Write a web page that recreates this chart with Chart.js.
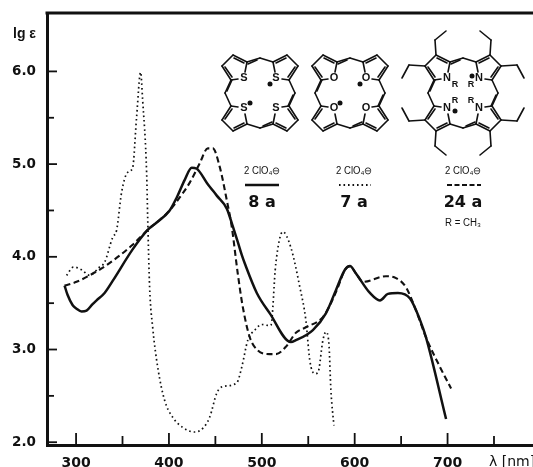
<!DOCTYPE html>
<html>
<head>
<meta charset="utf-8">
<style>
html,body{margin:0;padding:0;background:#fff}
#wrap{position:relative;width:533px;height:467px}
</style>
<script src="https://cdn.jsdelivr.net/npm/chart.js@4"></script>
</head>
<body>
<div id="wrap"><canvas id="c" width="533" height="467"></canvas></div>
<script>
const xTicks = [300,350,400,450,500,550,600,650,700,750];
const yTicks = [2,2.5,3,3.5,4,4.5,5,5.5,6];

const solidX = [287.6,290.8,296.2,300.5,305.9,311.3,317.8,322.1,330.7,339.4,360.9,377.1,386.8,400.8,408.4,417,424.5,429.9,440.7,451.5,462.3,468.7,474.1,478.4,481.6,494.6,508.6,531.3,536.7,555,569,579.8,589.5,594.9,601.4,616.4,627.2,635.8,646.6,659.6,670.3,676.8,698.4];
const solidY = [3.69,3.59,3.48,3.44,3.41,3.42,3.49,3.53,3.61,3.74,4.08,4.29,4.37,4.50,4.64,4.83,4.96,4.95,4.80,4.66,4.52,4.33,4.16,4.02,3.93,3.61,3.39,3.08,3.10,3.21,3.39,3.64,3.86,3.90,3.82,3.61,3.53,3.60,3.61,3.55,3.32,3.13,2.25];

const dashedX = [287.6,300.5,314.6,332.9,360.9,377.1,386.8,400.8,411.6,422.4,433.2,441.8,447.2,454.7,462.3,467.7,474.1,479.5,487.1,495.7,508.6,515.1,525.9,536.7,547.4,565.8,574.4,581.9,589.5,594.9,601.4,608.9,633.7,644.5,655.3,666.1,676.8,691.9,703.8];
const dashedY = [3.69,3.73,3.80,3.91,4.13,4.29,4.37,4.50,4.64,4.80,5.01,5.17,5.17,4.97,4.61,4.32,3.82,3.46,3.13,2.99,2.95,2.95,3.03,3.18,3.24,3.35,3.50,3.67,3.86,3.90,3.82,3.73,3.79,3.77,3.67,3.42,3.13,2.81,2.58];

const dottedX = [289.8,297.3,305.9,314.6,325.3,330.7,339.4,343.7,349.1,355.5,360.9,365.2,369.5,371.7,376,377.1,379.2,382.5,387.9,395.4,404,414.8,427.8,436.4,443.9,451.5,458,473,478.4,484.9,492.5,500,506.5,509.7,515.1,522.6,531.3,541,547.4,551.7,557.1,560.4,565.8,569,572.2,574.4,577.6];
const dottedY = [3.80,3.89,3.86,3.80,3.89,3.94,4.21,4.29,4.70,4.91,4.96,5.51,5.99,5.69,4.90,4.43,3.67,3.24,2.81,2.45,2.27,2.16,2.11,2.15,2.27,2.53,2.60,2.64,2.81,3.10,3.21,3.27,3.26,3.26,3.93,4.27,4.10,3.67,3.32,2.88,2.74,2.75,3.10,3.19,3.07,2.56,2.18];

const xAxisLabel = 'λ [nm]';
const yAxisLabel = 'lg ε';
const counterIon = '2 ClO₄⊖';
const compounds = ['8 a','7 a','24 a'];
const substituent = 'R = CH₃';

const INK = '#111';
const points = (xs, ys) => xs.map((x,i)=>({x, y:ys[i]}));

function seg(ctx,a,b){ctx.beginPath();ctx.moveTo(a[0],a[1]);ctx.lineTo(b[0],b[1]);ctx.stroke();}
function macrocycle(ctx,cx,cy,atom,opts){
  ctx.save();
  ctx.translate(cx,cy);
  ctx.strokeStyle=INK;ctx.fillStyle=INK;ctx.lineWidth=1.6;ctx.lineCap='round';
  [[1,1],[-1,1],[-1,-1],[1,-1]].forEach(([sx,sy])=>{
    const m=p=>[p[0]*sx,p[1]*sy];
    const a1=m([-13,-31]),b1=m([-27,-38]),b2=m([-38,-27]),a2=m([-29,-13]),x=m([-16,-15]);
    const top=m([0,-35]),left=m([-35,0]);
    const x1=m([-15,-21]),x2=m([-22,-14]);
    seg(ctx,a1,b1);seg(ctx,b1,b2);seg(ctx,b2,a2);seg(ctx,a2,x2);seg(ctx,a1,x1);
    seg(ctx,m([-16,-30]),m([-26,-35]));
    seg(ctx,m([-35,-26]),m([-28,-16]));
    seg(ctx,a1,top);seg(ctx,a2,left);
    if(sx*sy>0){seg(ctx,m([-3,-33]),m([-12,-29]));seg(ctx,m([-33,-2]),m([-28,-13]));}
    ctx.font='bold 11px "Liberation Sans"';
    ctx.textAlign='center';ctx.textBaseline='middle';
    ctx.fillText(atom,x[0],x[1]);
    if(opts.ethyl){
      seg(ctx,b1,m([-28,-53]));seg(ctx,m([-28,-53]),m([-17,-62]));
      seg(ctx,b2,m([-54,-28]));seg(ctx,m([-54,-28]),m([-61,-15]));
      ctx.font='bold 9px "Liberation Sans"';
      ctx.fillText('R',m([-8,-8])[0],m([-8,-8])[1]);
    }
  });
  opts.charges.forEach(p=>{ctx.beginPath();ctx.arc(p[0],p[1],2.5,0,Math.PI*2);ctx.fill();});
  ctx.restore();
}

const decor = {
  id:'decor',
  afterDraw(chart){
    const {ctx,chartArea:a,scales:{x,y}}=chart;
    ctx.save();
    ctx.strokeStyle=INK;ctx.fillStyle=INK;ctx.lineCap='butt';

    // top frame line
    ctx.lineWidth=3;seg(ctx,[a.left-1.5,a.top],[a.right,a.top]);

    // inward ticks
    ctx.lineWidth=1.8;
    y.ticks.forEach(t=>{
      const p=y.getPixelForValue(t.value),len=Number.isInteger(t.value)?10:7;
      seg(ctx,[a.left,p],[a.left+len,p]);
    });
    x.ticks.forEach(t=>{
      const p=x.getPixelForValue(t.value),len=t.value%100===0?12:9;
      seg(ctx,[p,a.bottom],[p,a.bottom-len]);
    });

    // axis captions
    ctx.textBaseline='alphabetic';ctx.textAlign='left';
    ctx.font='bold 14px "Liberation Sans"';
    ctx.fillText(yAxisLabel,13,38);
    ctx.font='14px "DejaVu Sans"';
    ctx.fillText(xAxisLabel,489,466);

    // structures
    macrocycle(ctx,260,93,'S',{charges:[[10,-9],[-10,10]]});
    macrocycle(ctx,350,93,'O',{charges:[[10,-9],[-10,10]]});
    macrocycle(ctx,463,93,'N',{ethyl:true,charges:[[9,-17],[-8,18]]});

    // key
    const cols=[262,354,463];
    ctx.textAlign='center';ctx.textBaseline='middle';ctx.fillStyle=INK;
    cols.forEach((cx,i)=>{
      ctx.font='10px "Liberation Sans"';
      ctx.fillText(counterIon,cx,171,36);
      ctx.font='bold 16px "DejaVu Sans"';
      ctx.fillText(compounds[i],cx,203);
    });
    ctx.font='10px "Liberation Sans"';
    ctx.fillText(substituent,463,223,36);

    ctx.lineWidth=2.5;seg(ctx,[245,185],[279,185]);
    ctx.lineWidth=1.8;ctx.setLineDash([1.6,2.9]);seg(ctx,[339,185],[371,185]);
    ctx.lineWidth=2;ctx.setLineDash([5,2.5]);seg(ctx,[447,185],[481,185]);
    ctx.setLineDash([]);
    ctx.restore();
  }
};

new Chart(document.getElementById('c'),{
  type:'line',
  data:{datasets:[
    {label:'8a',data:points(solidX,solidY),borderColor:INK,borderWidth:2.5,pointRadius:0,cubicInterpolationMode:'monotone'},
    {label:'24a',data:points(dashedX,dashedY),borderColor:INK,borderWidth:2.1,borderDash:[6,3.5],pointRadius:0,cubicInterpolationMode:'monotone'},
    {label:'7a',data:points(dottedX,dottedY),borderColor:INK,borderWidth:1.7,borderDash:[1.6,3],pointRadius:0,cubicInterpolationMode:'monotone'}
  ]},
  plugins:[decor],
  options:{
    responsive:false,animation:false,
    layout:{padding:{top:13,right:0,bottom:0,left:0}},
    plugins:{legend:{display:false},tooltip:{enabled:false}},
    scales:{
      x:{
        type:'linear',min:268.7,max:792,
        grid:{display:false},
        border:{display:true,color:INK,width:3},
        afterBuildTicks(s){s.ticks=xTicks.map(v=>({value:v}));},
        afterFit(s){s.height=22;s.paddingLeft=0;s.paddingRight=0;},
        ticks:{autoSkip:false,maxRotation:0,padding:2,color:INK,
          font:{family:'"DejaVu Sans"',weight:'bold',size:14},
          callback:v=>(v%100===0?String(v):'')}
      },
      y:{
        type:'linear',min:1.97,max:6.63,
        grid:{display:false},
        border:{display:true,color:INK,width:3},
        afterBuildTicks(s){s.ticks=yTicks.map(v=>({value:v}));},
        afterFit(s){s.width=47;s.paddingTop=0;s.paddingBottom=0;},
        ticks:{autoSkip:false,padding:3,color:INK,
          font:{family:'"DejaVu Sans"',weight:'bold',size:13.5},
          callback:v=>(Number.isInteger(v)?v.toFixed(1):'')}
      }
    }
  }
});
</script>
</body>
</html>
